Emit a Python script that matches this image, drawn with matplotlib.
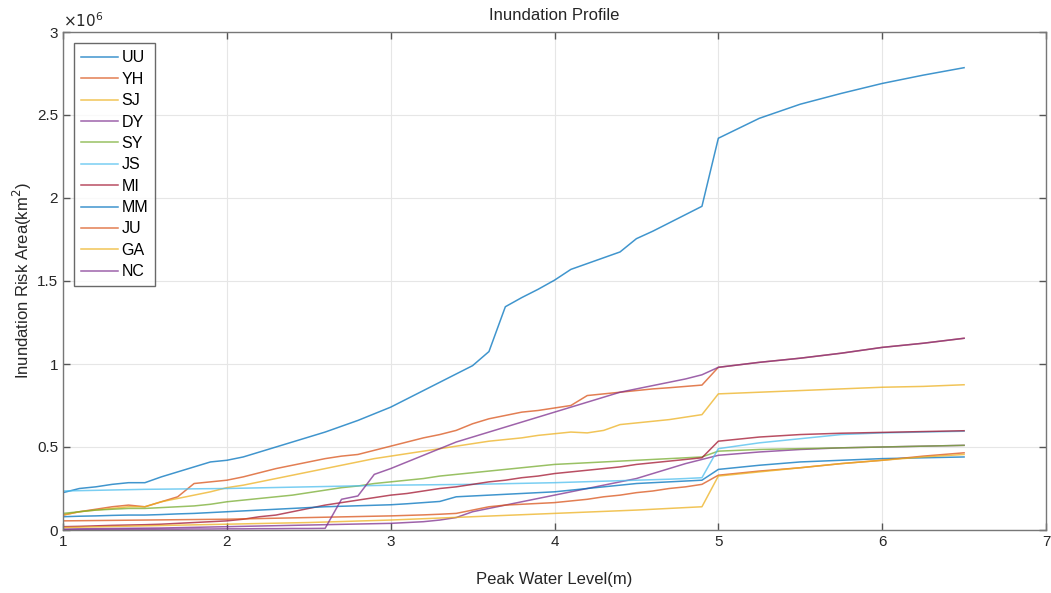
import matplotlib
matplotlib.use("Agg")
import matplotlib.pyplot as plt
from matplotlib.ticker import FuncFormatter, MultipleLocator

plt.rcParams['font.family'] = ['Liberation Sans', 'DejaVu Sans']

# Peak water level (m)
x = [1.0, 1.1, 1.2, 1.3, 1.4, 1.5, 1.6, 1.7, 1.8, 1.9,
     2.0, 2.1, 2.2, 2.3, 2.4, 2.5, 2.6, 2.7, 2.8, 2.9,
     3.0, 3.1, 3.2, 3.3, 3.4, 3.5, 3.6, 3.7, 3.8, 3.9,
     4.0, 4.1, 4.2, 4.3, 4.4, 4.5, 4.6, 4.7, 4.8, 4.9,
     5.0, 5.25, 5.5, 5.75, 6.0, 6.25, 6.5]

# Inundation risk area, in units of 1e6 km^2
UU = [.225, .25, .26, .275, .285, .285, .32, .35, .38, .41,
      .42, .44, .47, .50, .53, .56, .59, .625, .66, .70,
      .74, .79, .84, .89, .94, .99, 1.075, 1.345, 1.40, 1.45,
      1.505, 1.57, 1.605, 1.64, 1.675, 1.755, 1.80, 1.85, 1.90, 1.95,
      2.36, 2.48, 2.565, 2.63, 2.69, 2.74, 2.785]
YH = [.09, .11, .125, .14, .15, .14, .17, .20, .28, .29,
      .30, .32, .345, .37, .39, .41, .43, .445, .455, .48,
      .505, .53, .555, .575, .60, .64, .67, .69, .71, .72,
      .735, .75, .81, .82, .83, .84, .85, .857, .865, .873,
      .98, 1.01, 1.035, 1.065, 1.10, 1.125, 1.155]
SJ = [.09, .11, .12, .13, .14, .14, .17, .19, .21, .23,
      .255, .27, .29, .31, .33, .35, .37, .39, .41, .43,
      .445, .46, .475, .49, .505, .52, .535, .545, .555, .57,
      .58, .59, .585, .60, .635, .645, .655, .665, .68, .695,
      .82, .83, .84, .85, .86, .865, .875]
DY = [.005, .007, .008, .009, .010, .011, .012, .014, .016, .018,
      .020, .022, .024, .026, .028, .030, .032, .034, .036, .038,
      .040, .045, .05, .06, .075, .11, .13, .15, .17, .19,
      .21, .23, .25, .27, .29, .31, .34, .37, .40, .425,
      .45, .47, .485, .495, .50, .505, .51]
SY = [.10, .11, .12, .125, .13, .13, .135, .14, .145, .155,
      .17, .18, .19, .20, .21, .225, .24, .255, .265, .28,
      .29, .30, .31, .325, .335, .345, .355, .365, .375, .385,
      .395, .40, .405, .41, .415, .42, .425, .43, .435, .44,
      .475, .485, .49, .495, .50, .505, .51]
JS = [.235, .237, .239, .241, .243, .245, .246, .247, .248, .249,
      .25, .252, .254, .256, .258, .26, .262, .264, .266, .268,
      .27, .271, .272, .273, .274, .275, .277, .279, .281, .283,
      .285, .288, .291, .294, .297, .30, .303, .306, .31, .315,
      .49, .525, .55, .575, .585, .59, .595]
MI = [.02, .022, .025, .028, .03, .032, .035, .04, .045, .05,
      .055, .065, .08, .09, .11, .13, .15, .165, .18, .195,
      .21, .22, .235, .25, .26, .275, .29, .30, .315, .325,
      .34, .35, .36, .37, .38, .395, .405, .415, .425, .435,
      .535, .56, .575, .583, .588, .593, .598]
MM = [.08, .083, .085, .088, .09, .09, .093, .097, .10, .105,
      .11, .115, .12, .125, .13, .135, .14, .143, .146, .149,
      .152, .158, .165, .172, .20, .205, .21, .215, .22, .225,
      .23, .24, .25, .26, .27, .28, .285, .29, .295, .30,
      .365, .39, .41, .42, .43, .435, .44]
JU = [.055, .056, .057, .058, .059, .060, .061, .062, .063, .064,
      .065, .067, .069, .071, .073, .075, .077, .079, .081, .083,
      .085, .088, .091, .095, .10, .12, .14, .15, .155, .16,
      .165, .175, .185, .20, .21, .225, .235, .25, .26, .275,
      .33, .355, .375, .40, .42, .445, .465]
GA = [.015, .017, .019, .021, .023, .025, .027, .029, .031, .033,
      .035, .037, .039, .041, .043, .045, .048, .051, .054, .057,
      .06, .064, .068, .072, .076, .08, .084, .088, .092, .096,
      .10, .104, .108, .112, .116, .12, .125, .13, .135, .14,
      .325, .35, .375, .40, .42, .44, .455]
NC = [.002, .002, .003, .003, .004, .004, .005, .005, .006, .006,
      .007, .007, .008, .008, .009, .009, .010, .185, .205, .335,
      .37, .41, .45, .49, .53, .56, .59, .62, .65, .68,
      .71, .74, .77, .80, .83, .85, .87, .89, .91, .935,
      .98, 1.01, 1.035, 1.065, 1.10, 1.125, 1.155]

names = ['UU', 'YH', 'SJ', 'DY', 'SY', 'JS', 'MI', 'MM', 'JU', 'GA', 'NC']
series = [UU, YH, SJ, DY, SY, JS, MI, MM, JU, GA, NC]
colors = ['#0072BD', '#D95319', '#EDB120', '#7E2F8E', '#77AC30', '#4DBEEE',
          '#A2142F', '#0072BD', '#D95319', '#EDB120', '#7E2F8E']

fig = plt.figure(figsize=(10.51, 5.93), dpi=100)
ax = fig.add_axes([63/1051, 63/593, 983/1051, 498/593])

for name, vals, c in zip(names, series, colors):
    ax.plot(x, [v * 1e6 for v in vals], color=c, lw=1.1, alpha=0.75, label=name)

ax.set_xlim(1, 7)
ax.set_ylim(0, 3e6)
ax.xaxis.set_major_locator(MultipleLocator(1))
ax.yaxis.set_major_locator(MultipleLocator(0.5e6))
ax.yaxis.set_major_formatter(FuncFormatter(lambda v, p: f'{v/1e6:g}'))
ax.grid(True, color='#e6e6e6', lw=0.8)
ax.set_axisbelow(True)
ax.tick_params(direction='in', top=True, right=True, length=5, width=1.0,
               colors='#555555', labelcolor='#262626', labelsize=11)
for s in ax.spines.values():
    s.set_color('#777777')
    s.set_linewidth(1.0)

ax.text(0.0, 1.005, r'$\times10^{6}$', transform=ax.transAxes, ha='left',
        va='bottom', fontsize=11, color='#262626')
ax.set_title('Inundation Profile', fontsize=12, color='#262626', pad=9)
ax.set_xlabel('Peak Water Level(m)', fontsize=12, color='#262626', labelpad=17)
ax.set_ylabel(r'Inundation Risk Area(km$^2$)', fontsize=12, color='#262626', labelpad=2)

leg = ax.legend(loc='upper left', fontsize=11.5, frameon=True, fancybox=False,
                edgecolor='#444444', handlelength=2.3, handletextpad=0.2,
                labelspacing=0.40, borderaxespad=0.7, borderpad=0.45)
leg.get_frame().set_linewidth(1.0)

fig.savefig('out.png', dpi=100)
